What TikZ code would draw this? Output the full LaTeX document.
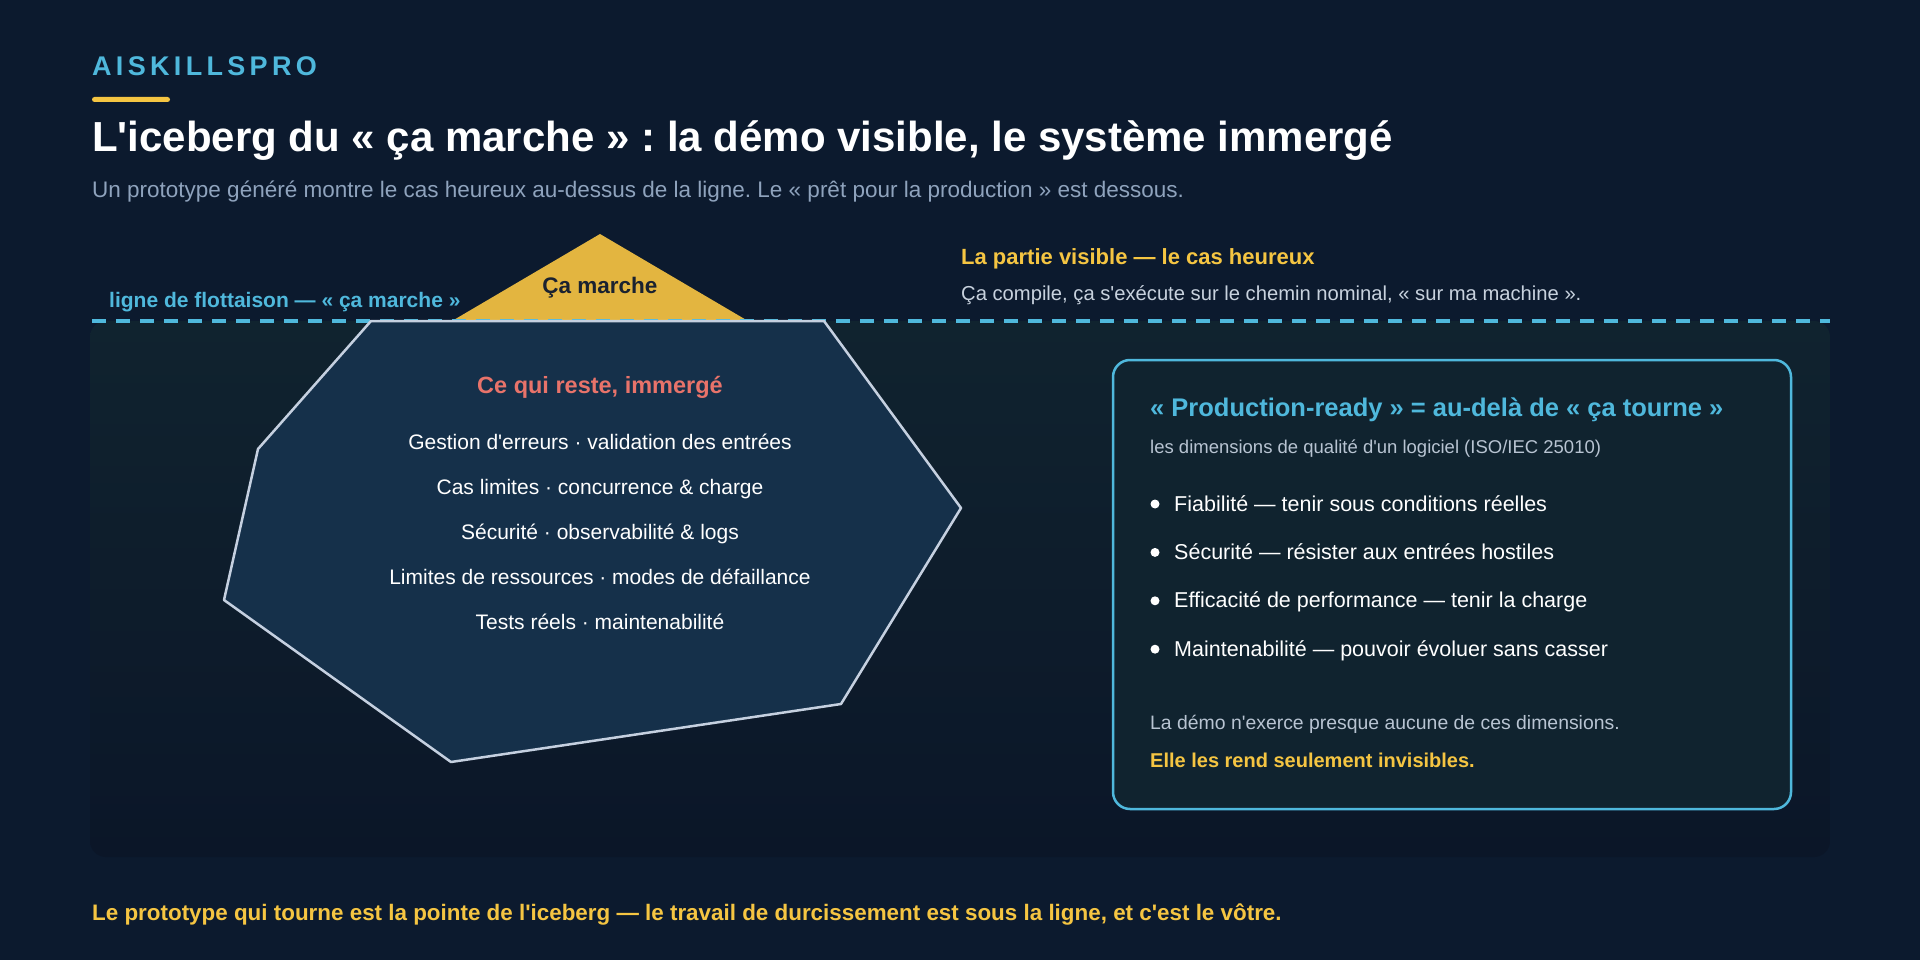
\documentclass[tikz,border=0pt]{standalone}
\usepackage{fontspec}
\setmainfont{Liberation Sans}[Ligatures=TeXOff]
\newfontfamily\brandfont{Liberation Sans}[LetterSpace=16,Ligatures=TeXOff]
\usetikzlibrary{positioning,calc}
\definecolor{ink}{HTML}{0C1A2E}
\definecolor{sea}{HTML}{10232F}
\definecolor{deep}{HTML}{0B1628}
\definecolor{cyanish}{HTML}{4FB8DC}
\definecolor{gold}{HTML}{F5C542}
\definecolor{tip}{HTML}{E3B540}
\definecolor{coral}{HTML}{E8736A}
\definecolor{bergfill}{HTML}{15304A}
\definecolor{bergline}{HTML}{C5D0E0}
\definecolor{panelfill}{HTML}{10232F}
\definecolor{haze}{HTML}{8FA3BD}
\definecolor{mute}{HTML}{B8C4D2}
\definecolor{pale}{HTML}{C8D2DE}
\definecolor{tipink}{HTML}{1A2230}
\newcommand{\pxsize}[1]{\fontsize{#1}{#1}\selectfont}
\frenchspacing

\begin{document}
\begin{tikzpicture}[x=1pt,y=-1pt,
  txt/.style={anchor=base west,inner sep=0pt,text=white},
  mid/.style={anchor=base,inner sep=0pt,text=white},
  berg/.style={fill=bergfill,draw=bergline,line width=2.5pt,line join=round},
  panel/.style={fill=panelfill,draw=cyanish,line width=2.5pt,rounded corners=17pt}]
  \useasboundingbox (0,0) rectangle (1920,960);
  \fill[ink] (0,0) rectangle (1920,960);
  \shade[top color=sea,bottom color=deep,rounded corners=16pt] (90,321) rectangle (1830,857);

  \node[txt,text=cyanish] (brand) at (92,76) {\brandfont\bfseries\pxsize{27}AISKILLSPRO};
  \fill[gold,rounded corners=2.5pt] (92,97) rectangle (170,102);
  \node[txt] (title) at (92,152) {\bfseries\pxsize{42}L'iceberg du « ça marche » : la démo visible, le système immergé};
  \node[txt,text=haze] (subtitle) at (92,198) {\pxsize{22.5}Un prototype généré montre le cas heureux au-dessus de la ligne. Le « prêt pour la production » est dessous.};

  \fill[tip] (452,321) -- (600,234) -- (748,321) -- cycle;
  \node[mid,text=tipink] (tiptext) at (600,294) {\bfseries\pxsize{22.5}Ça marche};

  \coordinate (wl-w) at (92,321);
  \coordinate (wl-e) at (1830,321);
  \draw[cyanish,line width=4pt,dash pattern=on 14pt off 10pt] (wl-w) -- (wl-e);
  \node[txt,text=cyanish] (wltext) at (109,307) {\bfseries\pxsize{21}ligne de flottaison — « ça marche »};

  \node[txt,text=gold] (vishead) at (961,265) {\bfseries\pxsize{22}La partie visible — le cas heureux};
  \node[txt,text=pale] (vistext) at (961,300) {\pxsize{20.2}Ça compile, ça s'exécute sur le chemin nominal, « sur ma machine ».};

  \filldraw[berg] (371,321) -- (824,321) -- (961,508) -- (841,704) -- (451,762) -- (224,600) -- (258,449) -- cycle;
  \node[mid,text=coral] (berghead) at (600,393) {\bfseries\pxsize{23.5}Ce qui reste, immergé};
  \foreach \i/\item in {%
    0/{Gestion d'erreurs · validation des entrées},
    1/{Cas limites · concurrence \& charge},
    2/{Sécurité · observabilité \& logs},
    3/{Limites de ressources · modes de défaillance},
    4/{Tests réels · maintenabilité}}
  {
    \node[mid] (hidden-\i) at (600,{449+\i*45}) {\pxsize{21}\item};
  }

  \draw[panel] (1113,360) rectangle (1791,809);
  \node[txt,text=cyanish] (panelhead) at (1150,416) {\bfseries\pxsize{25.5}« Production-ready » = au-delà de « ça tourne »};
  \node[txt,text=mute] (panelsub) at (1150,453) {\pxsize{18.5}les dimensions de qualité d'un logiciel (ISO/IEC 25010)};
  \foreach \i/\item in {%
    0/{Fiabilité — tenir sous conditions réelles},
    1/{Sécurité — résister aux entrées hostiles},
    2/{Efficacité de performance — tenir la charge},
    3/{Maintenabilité — pouvoir évoluer sans casser}}
  {
    \fill[white] (1155,{504+\i*48.4}) circle (4.5pt);
    \node[txt] (dim-\i) at (1174,{511+\i*48.4}) {\pxsize{21.5}\item};
  }
  \node[txt,text=mute] (panelnote) at (1150,729) {\pxsize{19.4}La démo n'exerce presque aucune de ces dimensions.};
  \node[txt,text=gold] (panelpunch) at (1150,767) {\bfseries\pxsize{20}Elle les rend seulement invisibles.};

  \node[txt,text=gold] (footer) at (92,920) {\bfseries\pxsize{22.4}Le prototype qui tourne est la pointe de l'iceberg — le travail de durcissement est sous la ligne, et c'est le vôtre.};
\end{tikzpicture}
\end{document}
